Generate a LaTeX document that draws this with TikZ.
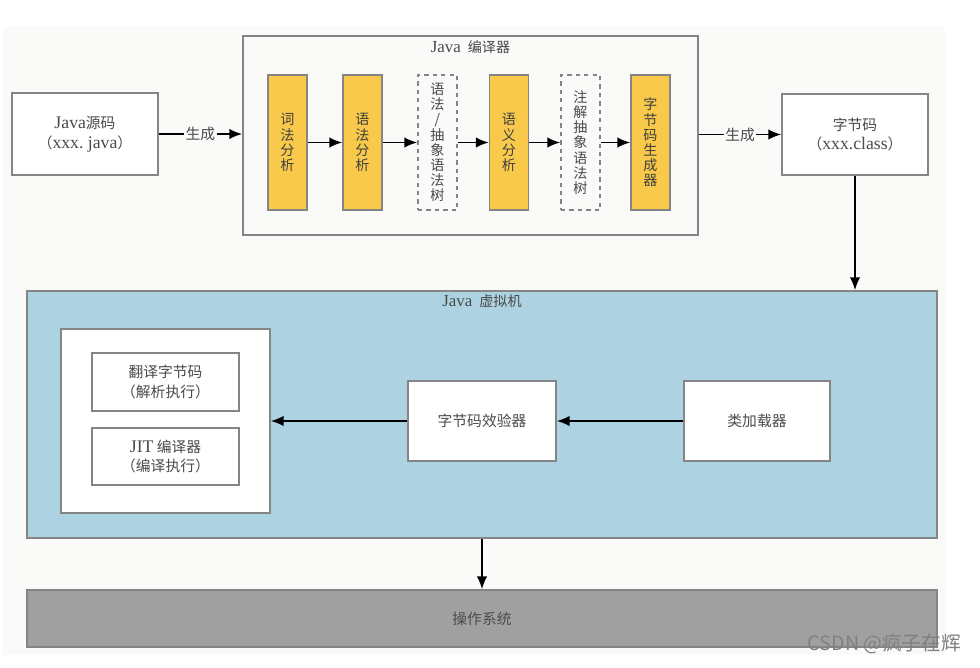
\documentclass[tikz,border=0pt]{standalone}
\usepackage{fontspec}
\setmainfont{Noto Sans CJK SC}
\newfontfamily\enfont[Scale=1.2]{Liberation Serif}
\usepackage{xcolor}
\usepackage{tikz}
\usetikzlibrary{calc, arrows.meta}

\definecolor{paper}{HTML}{FAFAF8}
\definecolor{boxline}{HTML}{858585}
\definecolor{stagefill}{HTML}{F8C94A}
\definecolor{jvmfill}{HTML}{ADD3E2}
\definecolor{osfill}{HTML}{A0A0A0}
\definecolor{labeltext}{HTML}{4A4A4A}

\begin{document}
\begin{tikzpicture}[x=0.025cm, y=-0.025cm,
  box/.style={draw=boxline, line width=1.1pt, fill=white, text=labeltext,
    align=center, inner sep=0pt, font=\fontsize{10.5}{14}\selectfont},
  stage/.style={box, fill=stagefill, minimum width=0.975cm, minimum height=3.375cm,
    font=\fontsize{10}{10.8}\selectfont, text=black!75},
  tree/.style={stage, fill=paper, dashed, text=labeltext},
  flow/.style={-{Latex[length=3.2mm, width=2.6mm]}, line width=1.2pt},
  gen/.style={fill=paper, inner sep=1pt, text=labeltext, font=\fontsize{10.5}{12}\selectfont}]
  \useasboundingbox (0, 0) rectangle (980, 668);
  \fill[white] (0, 0) rectangle (980, 668);
  \fill[paper] (3, 27) rectangle (945, 655);

  % Source file
  \node[box, minimum width=3.65cm, minimum height=2.05cm] (src) at (85, 134)
    {{\enfont Java}源码\\（{\enfont xxx.\ java}）};

  % Compiler and its stages
  \node[box, fill=paper, minimum width=11.375cm, minimum height=4.975cm] (javac) at (470.5, 135.5) {};
  \node[anchor=north, text=labeltext] (javactitle) at (javac.north) {{\enfont Java}\enspace 编译器};
  \node[stage] (lex) at (287.5, 142.5) {词\\法\\分\\析};
  \node[stage] (parse) at (362.5, 142.5) {语\\法\\分\\析};
  \node[tree] (ast) at (437.5, 142.5) {语\\法\\/\\抽\\象\\语\\法\\树};
  \node[stage] (sem) at (509, 142.5) {语\\义\\分\\析};
  \node[tree] (anno) at (580.5, 142.5) {注\\解\\抽\\象\\语\\法\\树};
  \node[stage] (bcgen) at (650.5, 142.5) {字\\节\\码\\生\\成\\器};
  \foreach \a/\b in {lex/parse, parse/ast, ast/sem, sem/anno, anno/bcgen}
    \draw[flow] (\a) -- (\b);

  % Class file
  \node[box, minimum width=3.65cm, minimum height=2.025cm] (cls) at (855, 134.5)
    {字节码\\（{\enfont xxx.class}）};

  \draw[flow] (src.east) -- node[gen] {生成} (src.east -| javac.west);
  \draw[flow] (cls.west -| javac.east) -- node[gen] {生成} (cls.west);

  % Virtual machine
  \node[box, fill=jvmfill, minimum width=22.75cm, minimum height=6.175cm] (jvm) at (482, 414.5) {};
  \node[anchor=north, text=labeltext] (jvmtitle) at (jvm.north) {{\enfont Java}\enspace 虚拟机};
  \node[box, minimum width=5.225cm, minimum height=4.6cm] (engine) at (165.5, 421) {};
  \node[box, minimum width=3.675cm, minimum height=1.45cm] (interp) at (165.5, 382)
    {翻译字节码\\（解析执行）};
  \node[box, minimum width=3.675cm, minimum height=1.425cm] (jit) at (165.5, 456.5)
    {{\enfont JIT} 编译器\\（编译执行）};
  \node[box, minimum width=3.7cm, minimum height=2cm] (verify) at (482, 421) {字节码效验器};
  \node[box, minimum width=3.65cm, minimum height=2cm] (loader) at (757, 421) {类加载器};
  \draw[flow] (loader) -- (verify);
  \draw[flow] (verify) -- (engine);
  \draw[flow] (cls) -- (cls |- jvm.north);

  % Operating system
  \node[box, fill=osfill, minimum width=22.75cm, minimum height=1.425cm, text=black!70] (os) at (482, 618.5) {操作系统};
  \draw[flow] (jvm) -- (os);

  \node[anchor=east, text=black!50, font=\fontsize{14}{14}\selectfont] (mark) at (966, 644) {CSDN @疯子在辉};
\end{tikzpicture}
\end{document}
